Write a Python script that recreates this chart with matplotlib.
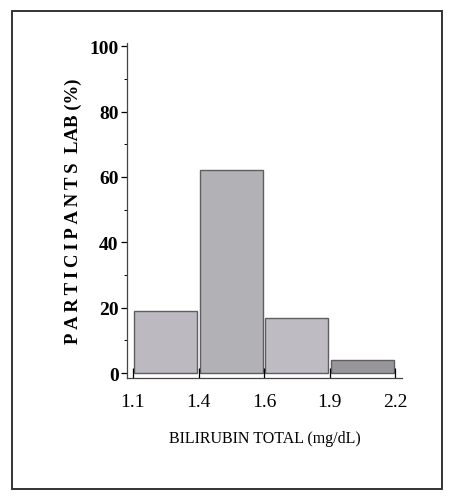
import matplotlib
matplotlib.use("Agg")
import matplotlib.pyplot as plt
from matplotlib.patches import Rectangle
from matplotlib.ticker import MultipleLocator

bin_labels = ["1.1", "1.4", "1.6", "1.9", "2.2"]
percent = [19, 62, 17, 4]
y_ticks = [0, 20, 40, 60, 80, 100]

plt.rcParams['font.family'] = ['Liberation Serif', 'DejaVu Serif']

fig = plt.figure(figsize=(4.51, 5.02), dpi=100)
fig.patch.set_facecolor("white")
fig.patches.append(Rectangle((12/451, 1-490/502), (442-12)/451, (490-12)/502,
                             transform=fig.transFigure, fill=False,
                             edgecolor="#333333", linewidth=1.4))

ax = fig.add_axes([127/451, 1-379/502, 275/451, 335/502])
edges = list(range(len(bin_labels)))
centers = [e + 0.5 for e in edges[:-1]]
colors = ["#bcbac0", "#b2b1b6", "#bebcc2", "#98969b"]
ax.bar(centers, percent, width=0.96, color=colors, edgecolor="#5e5e62", linewidth=1.0)

ax.set_xlim(-0.09, 4.1)
ax.set_ylim(-1.5, 101)
ax.set_xticks(edges)
ax.set_xticklabels(bin_labels, fontsize=14)
ax.set_yticks(y_ticks)
ax.set_yticklabels([str(v) for v in y_ticks], fontsize=14, fontweight="bold")
ax.yaxis.set_minor_locator(MultipleLocator(10))
ax.tick_params(axis="x", direction="in", length=7, width=0.9, pad=11)
ax.tick_params(axis="y", which="major", direction="out", length=4, width=0.9, pad=2)
ax.tick_params(axis="y", which="minor", direction="out", length=2, width=0.7)
for s in ["top", "right"]:
    ax.spines[s].set_visible(False)
for s in ["left", "bottom"]:
    ax.spines[s].set_color("#444444")
    ax.spines[s].set_linewidth(0.9)

ax.set_xlabel("BILIRUBIN TOTAL (mg/dL)", fontsize=11.5, labelpad=14)
ax.set_ylabel("P\u2009A\u2009R\u2009T\u2009I\u2009C\u2009I\u2009P\u2009A\u2009N\u2009T\u2009S  LAB (%)",
              fontsize=13.5, fontweight="bold", labelpad=5)

fig.savefig("out.png", dpi=100)
